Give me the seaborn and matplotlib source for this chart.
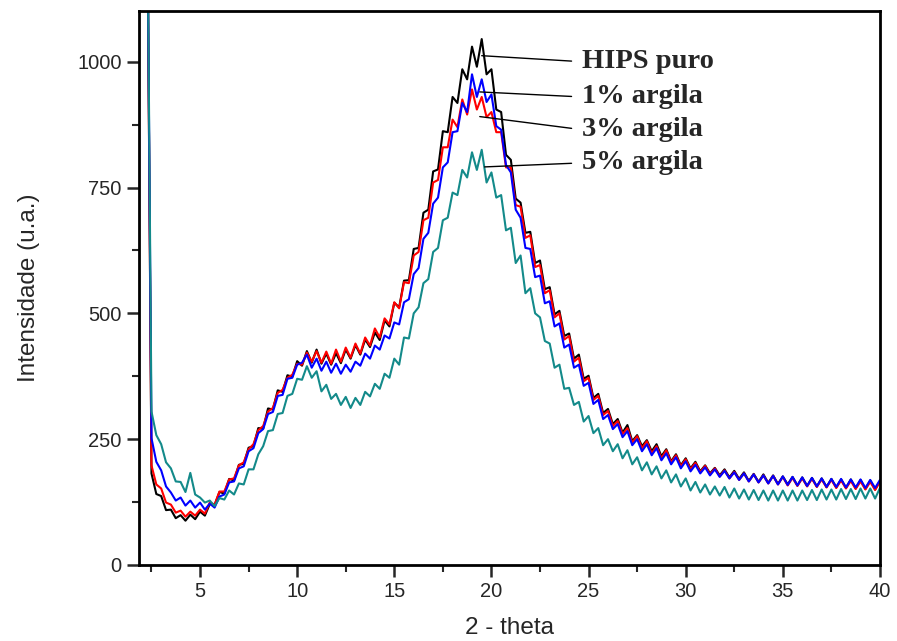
import numpy as np
import pandas as pd
import seaborn as sns
import matplotlib.pyplot as plt
from matplotlib.ticker import MultipleLocator

# 2-theta grid (step 0.25 deg)
two_theta = np.arange(2.25, 40.001, 0.25)

hips_puro = [
    1500, 182, 141, 137, 109, 110, 93, 99,
    88, 100, 91, 106, 98, 121, 119, 145,
    142, 171, 168, 199, 201, 233, 236, 272,
    271, 311, 309, 347, 344, 377, 374, 405,
    396, 425, 402, 428, 400, 420, 398, 421,
    401, 428, 410, 437, 418, 448, 433, 462,
    447, 486, 474, 521, 512, 565, 566, 628,
    630, 700, 706, 782, 786, 862, 860, 930,
    918, 985, 965, 1030, 990, 1045, 975, 985,
    905, 900, 815, 805, 728, 720, 660, 662,
    600, 605, 548, 552, 498, 505, 455, 460,
    410, 418, 370, 376, 332, 340, 302, 310,
    280, 290, 263, 278, 246, 258, 236, 248,
    226, 240, 216, 230, 206, 220, 198, 212,
    192, 205, 186, 198, 182, 193, 178, 190,
    174, 187, 171, 184, 167, 181, 165, 180,
    163, 178, 161, 176, 160, 175, 158, 174,
    157, 173, 156, 172, 155, 171, 154, 170,
    153, 170, 152, 169, 151, 168, 150, 167,
]
argila_1 = [
    1500, 198, 160, 152, 124, 120, 104, 108,
    96, 106, 98, 110, 102, 124, 120, 146,
    146, 170, 172, 198, 204, 230, 240, 268,
    276, 305, 312, 342, 348, 372, 378, 400,
    398, 422, 404, 425, 402, 424, 400, 428,
    404, 432, 412, 440, 420, 452, 436, 470,
    452, 490, 478, 522, 510, 562, 560, 615,
    622, 685, 690, 760, 765, 830, 830, 885,
    870, 925, 895, 945, 905, 930, 890, 900,
    860, 860, 790, 790, 715, 712, 650, 655,
    592, 596, 540, 546, 492, 500, 448, 455,
    404, 412, 365, 372, 328, 336, 298, 306,
    276, 286, 260, 272, 243, 256, 232, 246,
    222, 236, 212, 228, 204, 218, 196, 210,
    190, 203, 184, 197, 180, 192, 176, 188,
    172, 185, 169, 182, 166, 180, 164, 178,
    162, 177, 160, 175, 158, 173, 157, 172,
    156, 171, 155, 170, 154, 169, 153, 168,
    152, 167, 151, 166, 150, 165, 149, 165,
]
argila_3 = [
    1500, 252, 205, 188, 156, 144, 128, 134,
    118, 128, 114, 124, 110, 122, 114, 136,
    140, 164, 166, 192, 196, 226, 232, 262,
    270, 300, 304, 336, 338, 370, 372, 398,
    402, 418, 392, 410, 386, 404, 382, 400,
    380, 398, 384, 404, 396, 420, 410, 436,
    428, 456, 450, 482, 478, 522, 528, 578,
    590, 648, 660, 718, 730, 790, 800, 860,
    862, 918, 900, 975, 930, 965, 920, 935,
    872, 865, 795, 780, 706, 690, 630, 628,
    572, 575, 520, 524, 474, 480, 432, 438,
    392, 398, 356, 362, 320, 328, 290, 298,
    270, 280, 254, 266, 238, 250, 226, 240,
    218, 232, 208, 222, 200, 214, 192, 206,
    186, 199, 182, 194, 178, 190, 175, 187,
    172, 184, 169, 182, 166, 180, 164, 178,
    162, 177, 160, 176, 159, 175, 158, 174,
    157, 173, 156, 172, 155, 171, 155, 171,
    154, 170, 154, 170, 153, 169, 153, 169,
]
argila_5 = [
    1500, 305, 258, 240, 204, 192, 166, 165,
    145, 183, 140, 134, 124, 128, 117, 133,
    130, 148, 140, 162, 160, 190, 190, 220,
    236, 266, 268, 300, 302, 336, 340, 370,
    368, 395, 372, 385, 345, 358, 330, 340,
    318, 334, 312, 332, 318, 344, 335, 360,
    350, 380, 372, 410, 398, 452, 450, 500,
    512, 560, 568, 622, 630, 685, 690, 740,
    735, 785, 770, 820, 785, 825, 760, 780,
    730, 735, 665, 670, 600, 615, 540, 550,
    500, 492, 445, 440, 392, 398, 350, 352,
    318, 324, 285, 296, 262, 272, 238, 250,
    226, 240, 212, 228, 200, 214, 188, 204,
    180, 196, 172, 188, 164, 180, 156, 172,
    148, 165, 144, 160, 140, 156, 138, 155,
    134, 152, 132, 150, 130, 149, 129, 148,
    128, 148, 128, 148, 128, 148, 128, 148,
    129, 149, 129, 150, 130, 150, 130, 151,
    131, 151, 131, 152, 132, 152, 132, 153,
]

series_names = ['HIPS puro', '1% argila', '3% argila', '5% argila']
series_colors = ['#000000', '#ff0000', '#0000ff', '#138a8a']

df = pd.concat([
    pd.DataFrame({'theta': two_theta, 'I': vals, 'amostra': name})
    for name, vals in zip(series_names, [hips_puro, argila_1, argila_3, argila_5])
])

sns.set_style('ticks')
plt.rcParams['font.family'] = ['Liberation Sans', 'DejaVu Sans']

fig = plt.figure(figsize=(8.97, 6.41), dpi=100)
ax = fig.add_axes([0.155, 0.1186, 0.826, 0.8644])

sns.lineplot(data=df, x='theta', y='I', hue='amostra', hue_order=series_names,
             palette=series_colors, estimator=None, sort=False, lw=1.5,
             legend=False, ax=ax)

ax.set_xlim(1.86, 40)
ax.set_ylim(0, 1101)
ax.xaxis.set_major_locator(MultipleLocator(5))
ax.xaxis.set_minor_locator(MultipleLocator(2.5))
ax.yaxis.set_major_locator(MultipleLocator(250))
ax.yaxis.set_minor_locator(MultipleLocator(125))
ax.set_xticks(np.arange(5, 41, 5))
ax.tick_params(which='major', length=8.5, width=1.8, labelsize=14.5, direction='out', pad=4)
ax.tick_params(which='minor', length=5, width=1.5, direction='out')
for s in ax.spines.values():
    s.set_linewidth(2)
    s.set_color('black')

ax.set_xlabel('2 - theta', fontsize=17.5, labelpad=11)
ax.set_ylabel('Intensidade (u.a.)', fontsize=17.5, labelpad=27)

# leader-line labels
label_text = series_names
label_xy = [(19.5, 1012), (19.4, 940), (19.4, 891), (19.65, 791)]
label_pos = [(24.65, 1000), (24.65, 930), (24.65, 865), (24.65, 799)]
for txt, xy, pos in zip(label_text, label_xy, label_pos):
    ax.annotate(txt, xy=xy, xytext=pos, ha='left', va='center',
                fontsize=20.5, fontweight='bold', family=['Liberation Serif', 'DejaVu Serif'],
                arrowprops=dict(arrowstyle='-', lw=1, color='black', relpos=(0, 0.5),
                                shrinkA=5, shrinkB=0))

fig.savefig('out.png', dpi=100)
